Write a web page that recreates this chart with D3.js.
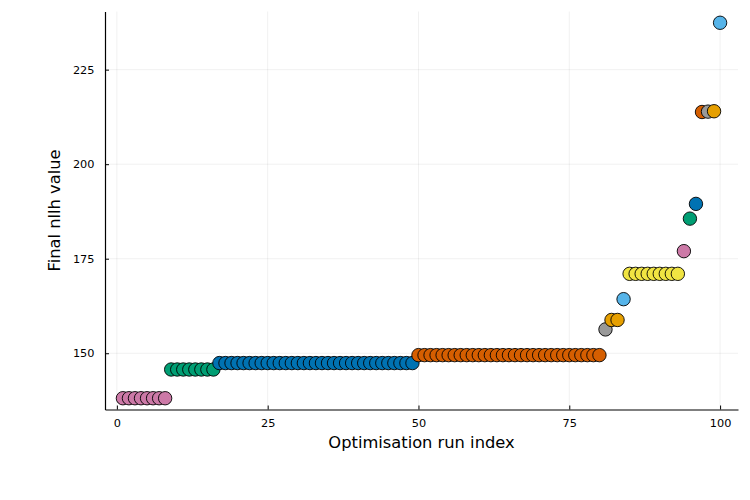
<!DOCTYPE html>
<html lang="en">
  <head>
    <meta charset="UTF-8" />
    <script src="https://d3js.org/d3.v7.min.js"></script>
    <style>
      body { margin: 0; background: white; }
      text { font-family: "DejaVu Sans", sans-serif; fill: #000; }
      .grid line { stroke: #000; stroke-opacity: 0.1; stroke-width: 0.6; }
    </style>
  </head>
  <body>
    <svg id="chart" width="750" height="500"></svg>
    <script>
      // final nllh per optimisation run, already sorted
      const nllh = [
        138.1, 138.1, 138.1, 138.1, 138.1, 138.1, 138.1, 138.1,
        145.7, 145.7, 145.7, 145.7, 145.7, 145.7, 145.7, 145.7,
        147.4, 147.4, 147.4, 147.4, 147.4, 147.4, 147.4, 147.4, 147.4, 147.4, 147.4,
        147.4, 147.4, 147.4, 147.4, 147.4, 147.4, 147.4, 147.4, 147.4, 147.4, 147.4,
        147.4, 147.4, 147.4, 147.4, 147.4, 147.4, 147.4, 147.4, 147.4, 147.4, 147.4,
        149.5, 149.5, 149.5, 149.5, 149.5, 149.5, 149.5, 149.5, 149.5, 149.5, 149.5,
        149.5, 149.5, 149.5, 149.5, 149.5, 149.5, 149.5, 149.5, 149.5, 149.5, 149.5,
        149.5, 149.5, 149.5, 149.5, 149.5, 149.5, 149.5, 149.5, 149.5,
        156.3,
        158.8, 158.8,
        164.3,
        171.0, 171.0, 171.0, 171.0, 171.0, 171.0, 171.0, 171.0, 171.0,
        177.0,
        185.6,
        189.5,
        213.8,
        213.9,
        214.0,
        237.4
      ];
      // one colour per distinct value, cycling
      const palette = ["#cc79a7", "#009e73", "#0072b2", "#d55e00",
                       "#999999", "#e69f00", "#56b4e9", "#f0e442"];
      const xTicks = [0, 25, 50, 75, 100];
      const yTicks = [150, 175, 200, 225];

      const svg = d3.select("#chart");
      const mLeft = 105, mRight = 738, mTop = 11.5, mBottom = 409.5;

      const n = nllh.length;
      const xPad = (n - 1) * 0.03;
      const x = d3.scaleLinear().domain([1 - xPad, n + xPad]).range([mLeft, mRight]);
      const yMin = d3.min(nllh), yMax = d3.max(nllh);
      const yPad = (yMax - yMin) * 0.03;
      const y = d3.scaleLinear().domain([yMin - yPad, yMax + yPad]).range([mBottom, mTop]);

      // grid
      const grid = svg.append("g").attr("class", "grid");
      grid.selectAll(".gx").data(xTicks).join("line")
        .attr("x1", d => x(d)).attr("x2", d => x(d))
        .attr("y1", mTop).attr("y2", mBottom);
      grid.selectAll(".gy").data(yTicks).join("line")
        .attr("x1", mLeft).attr("x2", mRight)
        .attr("y1", d => y(d)).attr("y2", d => y(d));

      // axes, ticks point inwards like Plots.jl
      const xAxis = svg.append("g")
        .attr("transform", `translate(0,${mBottom})`)
        .call(d3.axisBottom(x).tickValues(xTicks).tickSizeInner(-4).tickSizeOuter(0).tickPadding(9));
      const yAxis = svg.append("g")
        .attr("transform", `translate(${mLeft},0)`)
        .call(d3.axisLeft(y).tickValues(yTicks).tickSizeInner(-4).tickSizeOuter(0).tickPadding(10.5));
      [xAxis, yAxis].forEach(a => {
        a.select(".domain").attr("stroke", "#000").attr("stroke-width", 1.2);
        a.selectAll(".tick line").attr("stroke", "#000").attr("stroke-width", 1);
        a.selectAll("text").attr("font-size", 11.3).attr("font-family", "DejaVu Sans");
      });

      // colour group changes whenever the value changes
      let g = -1;
      const pts = nllh.map((v, i) => {
        if (i === 0 || v !== nllh[i - 1]) g++;
        return { run: i + 1, v: v, c: palette[g % palette.length] };
      });

      svg.append("g").selectAll("circle").data(pts).join("circle")
        .attr("cx", d => x(d.run))
        .attr("cy", d => y(d.v))
        .attr("r", 6.7)
        .attr("fill", d => d.c)
        .attr("stroke", "#000")
        .attr("stroke-width", 0.9);

      svg.append("text")
        .attr("x", (mLeft + mRight) / 2).attr("y", 448)
        .attr("text-anchor", "middle").attr("font-size", 16.3)
        .text("Optimisation run index");
      svg.append("text")
        .attr("transform", `translate(60,${(mTop + mBottom) / 2}) rotate(-90)`)
        .attr("text-anchor", "middle").attr("font-size", 16.3)
        .text("Final nllh value");
    </script>
  </body>
</html>
